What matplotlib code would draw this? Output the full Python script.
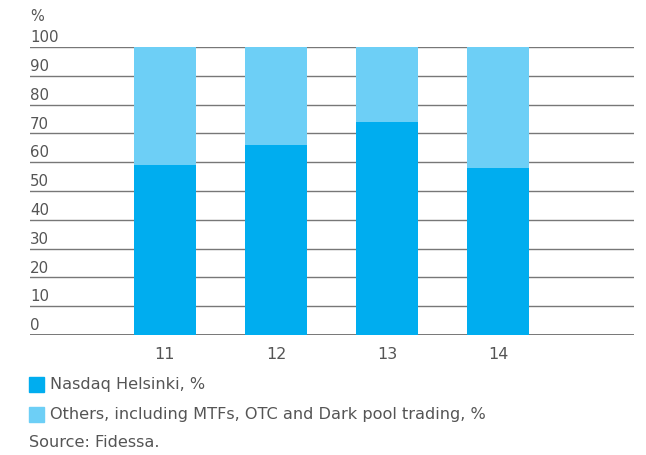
import matplotlib.pyplot as plt
from matplotlib.patches import Rectangle
import matplotlib.transforms as mtransforms

plt.rcParams['font.family'] = ['DejaVu Sans']

years = ['11', '12', '13', '14']
nasdaq = [59, 66, 74, 58]
others = [100 - v for v in nasdaq]
yticks = list(range(0, 101, 10))

dark = '#00adef'
light = '#6dcff6'
txt = '#555555'
grid = '#777777'

fig = plt.figure(figsize=(6.46, 4.56), dpi=100)
ax = fig.add_axes([30 / 646, 1 - 336 / 456, 604 / 646, 288 / 456])

x = range(len(years))
ax.set_xlim(-1.216, 4.225)
ax.set_ylim(0, 100)

# horizontal rules under the bars
for v in yticks:
    ax.axhline(v, color=grid, lw=1.4 if v == 0 else 1.0, zorder=1)

ax.bar(x, nasdaq, width=0.55, color=dark, zorder=2)
ax.bar(x, others, width=0.55, bottom=nasdaq, color=light, zorder=2)

# value labels sit above each rule at the left edge
trans = mtransforms.blended_transform_factory(ax.transAxes, ax.transData)
for v in yticks:
    ax.annotate(str(v), xy=(0, v), xycoords=trans, xytext=(0, 2),
                textcoords='offset points', ha='left', va='bottom',
                fontsize=10.8, color=txt)
ax.annotate('%', xy=(0, 100), xycoords=trans, xytext=(0, 17),
            textcoords='offset points', ha='left', va='bottom',
            fontsize=10.5, color=txt)

ax.set_xticks(list(x))
ax.set_xticklabels(years, fontsize=11.5, color=txt)
ax.tick_params(axis='x', length=0, pad=8)
ax.set_yticks([])
for s in ax.spines.values():
    s.set_visible(False)

# legend and source line
fig.patches.append(Rectangle((29 / 646, 1 - 393 / 456), 15 / 646, 15 / 456,
                             transform=fig.transFigure, color=dark))
fig.patches.append(Rectangle((29 / 646, 1 - 423 / 456), 15 / 646, 15 / 456,
                             transform=fig.transFigure, color=light))
fig.text(50 / 646, 1 - 385 / 456, 'Nasdaq Helsinki, %', fontsize=11.6,
         color=txt, va='center')
fig.text(50 / 646, 1 - 415 / 456,
         'Others, including MTFs, OTC and Dark pool trading, %', fontsize=11.6,
         color=txt, va='center')
fig.text(29 / 646, 1 - 443 / 456, 'Source: Fidessa.', fontsize=11.6,
         color=txt, va='center')

fig.savefig('out.png', dpi=100)
